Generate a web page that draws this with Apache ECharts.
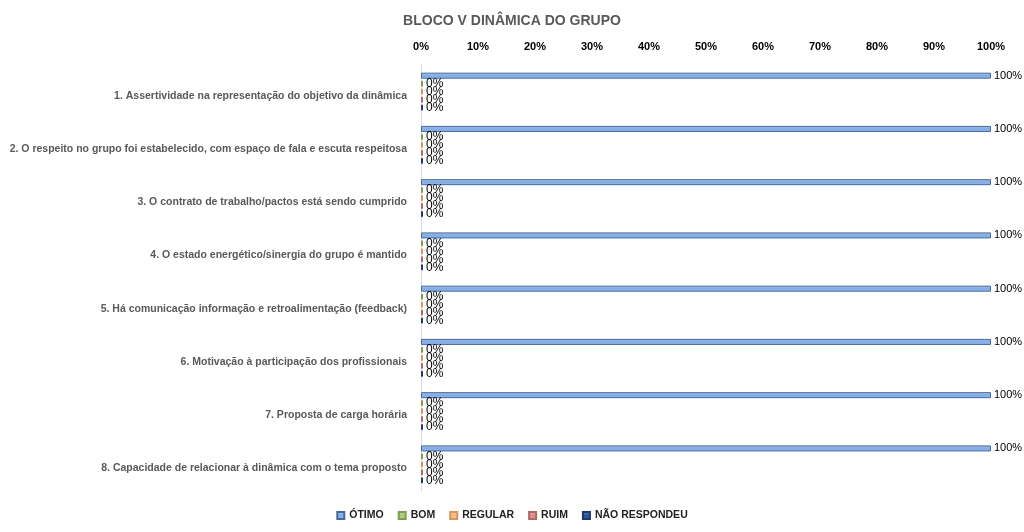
<!DOCTYPE html>
<html>
<head>
<meta charset="utf-8">
<script src="https://cdn.jsdelivr.net/npm/echarts@6/dist/echarts.min.js"></script>
<style>html,body{margin:0;padding:0;background:#fff}#c{width:1024px;height:532px}</style>
</head>
<body>
<div id="c"></div>
<script>
const categories = [
  "1. Assertividade na representação do objetivo da dinâmica",
  "2. O respeito no grupo foi estabelecido, com espaço de fala e escuta respeitosa",
  "3. O contrato de trabalho/pactos está sendo cumprido",
  "4. O estado energético/sinergia do grupo é mantido",
  "5. Há comunicação informação e retroalimentação (feedback)",
  "6. Motivação à participação dos profissionais",
  "7. Proposta de carga horária",
  "8. Capacidade de relacionar à dinâmica com o tema proposto"
];
const seriesNames = ["ÓTIMO", "BOM", "REGULAR", "RUIM", "NÃO RESPONDEU"];
const otimo = [100, 100, 100, 100, 100, 100, 100, 100];
const bom = [0, 0, 0, 0, 0, 0, 0, 0];
const regular = [0, 0, 0, 0, 0, 0, 0, 0];
const ruim = [0, 0, 0, 0, 0, 0, 0, 0];
const naoRespondeu = [0, 0, 0, 0, 0, 0, 0, 0];
const tickLabels = ["0%", "10%", "20%", "30%", "40%", "50%", "60%", "70%", "80%", "90%", "100%"];

const colors = ["#82ACE3", "#A9C97A", "#F7B985", "#D48F8D", "#2E5597"];
const borders = ["#46699A", "#7E9E4E", "#D8955E", "#B06866", "#1D3A6E"];
const FONT = "'Liberation Sans', Arial, sans-serif";
const allData = [otimo, bom, regular, ruim, naoRespondeu];

const series = seriesNames.map((name, i) => ({
  name: name,
  type: 'bar',
  data: allData[i],
  barWidth: 6,
  barGap: '33%',
  barMinHeight: 2,
  itemStyle: {
    color: new echarts.graphic.LinearGradient(0, 0, 0, 1, [
      {offset: 0, color: echarts.color.lift(colors[i], 0.3)},
      {offset: 0.5, color: colors[i]},
      {offset: 1, color: echarts.color.lift(colors[i], -0.1)}
    ]),
    borderColor: borders[i],
    borderWidth: 1
  },
  label: {
    show: true,
    position: 'right',
    distance: 3,
    formatter: p => p.value + '%',
    color: '#000',
    fontFamily: FONT,
    fontSize: i === 0 ? 11 : 12
  }
}));

const chart = echarts.init(document.getElementById('c'));
chart.setOption({
  animation: false,
  color: colors,
  title: {
    text: 'BLOCO V DINÂMICA DO GRUPO',
    left: 'center',
    top: 9,
    textStyle: {color: '#595959', fontFamily: FONT, fontSize: 14, fontWeight: 'bold'}
  },
  legend: {
    bottom: 6,
    left: 'center',
    itemWidth: 7,
    itemHeight: 7,
    itemGap: 14,
    icon: 'rect',
    textStyle: {color: '#222', fontFamily: FONT, fontSize: 10.5, fontWeight: 'bold'},
    data: seriesNames
  },
  grid: {left: 421, right: 33, top: 65, bottom: 41, containLabel: false},
  xAxis: {
    type: 'value',
    position: 'top',
    min: 0,
    max: 100,
    interval: 10,
    axisLine: {show: false},
    axisTick: {show: false},
    splitLine: {show: false},
    axisLabel: {
      formatter: v => tickLabels[Math.round(v / 10)],
      color: '#000',
      fontFamily: FONT,
      fontSize: 11,
      fontWeight: 'bold',
      margin: 13
    }
  },
  yAxis: {
    type: 'category',
    inverse: true,
    data: categories,
    axisLine: {show: true, lineStyle: {color: '#D9D9D9', width: 1}},
    axisTick: {show: false},
    axisLabel: {
      margin: 14,
      formatter: v => '{a|' + v + '}',
      rich: {
        a: {
          color: '#595959',
          fontFamily: FONT,
          fontSize: 10.5,
          fontWeight: 'bold',
          padding: [8, 0, 0, 0]
        }
      }
    }
  },
  series: series
});
</script>
</body>
</html>
